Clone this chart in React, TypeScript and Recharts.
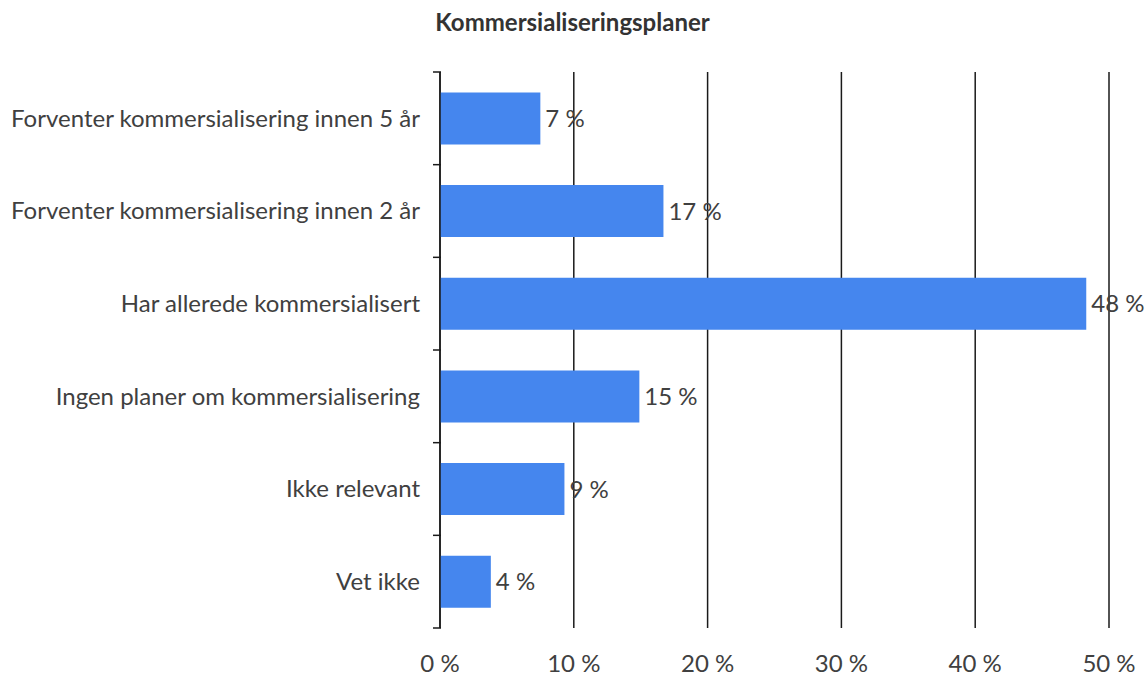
import React from 'react';
import { BarChart, Bar, XAxis, YAxis, CartesianGrid, LabelList } from 'recharts';

const categories = [
  'Forventer kommersialisering innen 5 år',
  'Forventer kommersialisering innen 2 år',
  'Har allerede kommersialisert',
  'Ingen planer om kommersialisering',
  'Ikke relevant',
  'Vet ikke',
];
const values = [7.5, 16.7, 48.3, 14.9, 9.3, 3.8];
const valueLabels = ['7 %', '17 %', '48 %', '15 %', '9 %', '4 %'];
const xTicks = [0, 10, 20, 30, 40, 50];
const title = 'Kommersialiseringsplaner';

const data = categories.map((c, i) => ({ category: c, value: values[i], label: valueLabels[i] }));

const FONT = 'Lato, "Open Sans", sans-serif';
const TEXT = '#404040';
const LINE = '#1a1a1a';
const FS = 24;

const YTick = (props: any) => {
  const { x, y, payload, index } = props;
  const half = payload && payload.offset ? payload.offset : 46.33;
  const last = index === categories.length - 1;
  return (
    <g>
      <line x1={x + 13} x2={x + 21} y1={y - half} y2={y - half} stroke={LINE} strokeWidth={1.5} />
      {last && <line x1={x + 13} x2={x + 21} y1={y + half} y2={y + half} stroke={LINE} strokeWidth={1.5} />}
      <text x={x} y={y} dy="0.35em" textAnchor="end" fill={TEXT} fontSize={FS} fontFamily={FONT}>
        {payload.value}
      </text>
    </g>
  );
};

export default function App() {
  return (
    <div style={{ position: 'absolute', left: 0, top: 0, width: 1145, height: 678, background: '#fff' }}>
      <div
        style={{
          position: 'absolute',
          left: 0,
          top: 8,
          width: 1145,
          textAlign: 'center',
          fontFamily: FONT,
          fontWeight: 700,
          fontSize: 24,
          lineHeight: '28px',
          color: '#333',
        }}
      >
        {title}
      </div>
      <BarChart
        width={1145}
        height={678}
        data={data}
        layout="vertical"
        margin={{ top: 72, right: 36, bottom: 0, left: 0 }}
        barCategoryGap="22%"
      >
        <CartesianGrid horizontal={false} vertical={true} stroke={LINE} strokeWidth={1.5} />
        <XAxis
          type="number"
          domain={[0, 50]}
          ticks={xTicks}
          interval={0}
          tickFormatter={(v: number) => `${v} %`}
          axisLine={false}
          tickLine={false}
          tickSize={0}
          tickMargin={27}
          height={50}
          tick={{ fill: TEXT, fontSize: FS, fontFamily: FONT }}
        />
        <YAxis
          type="category"
          dataKey="category"
          width={440}
          tickLine={false}
          tickSize={0}
          tickMargin={20}
          interval={0}
          axisLine={{ stroke: LINE, strokeWidth: 1.5 }}
          tick={<YTick />}
        />
        <Bar dataKey="value" fill="#4586EE" isAnimationActive={false}>
          <LabelList dataKey="label" position="right" offset={5} fill={TEXT} fontSize={FS} fontFamily={FONT} />
        </Bar>
      </BarChart>
    </div>
  );
}
